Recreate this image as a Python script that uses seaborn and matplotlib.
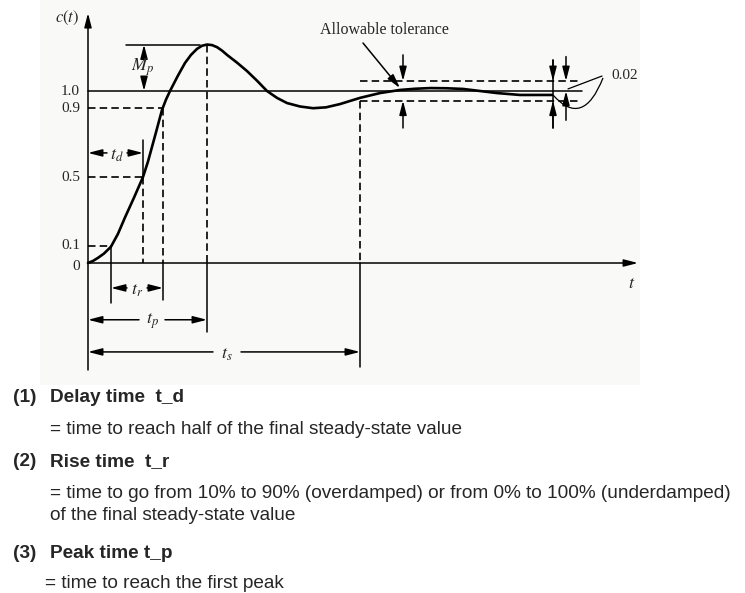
import matplotlib
matplotlib.use("Agg")
import matplotlib.pyplot as plt
import seaborn as sns
import pandas as pd
from matplotlib.patches import Rectangle, PathPatch
from matplotlib.path import Path

# -----------------------------
# Step response
# -----------------------------
t_vals = [0.00, 0.05, 0.10, 0.16, 0.23, 0.30, 0.37, 0.46, 0.55, 0.60, 0.68,
          0.74, 0.78, 0.82, 0.90, 0.97, 1.03, 1.09, 1.14, 1.19, 1.24, 1.29,
          1.34, 1.39, 1.49, 1.59, 1.69, 1.79, 1.89, 1.99, 2.12, 2.25, 2.38,
          2.52, 2.72, 2.92, 3.12, 3.27, 3.42, 3.58, 3.75, 3.92, 4.09, 4.32,
          4.64]
c_vals = [0.000, 0.012, 0.030, 0.055, 0.095, 0.170, 0.265, 0.380, 0.500, 0.590,
          0.760, 0.890, 0.950, 1.000, 1.090, 1.163, 1.210, 1.245, 1.263, 1.270,
          1.267, 1.255, 1.235, 1.210, 1.165, 1.116, 1.060, 1.000, 0.960, 0.930,
          0.910, 0.900, 0.905, 0.924, 0.960, 0.988, 1.006, 1.013, 1.017, 1.016,
          1.012, 1.000, 0.988, 0.977, 0.977]

tick_values = [1.0, 0.9, 0.5, 0.1, 0.0]
tick_labels = ["1.0", "0.9", "0.5", "0.1", "0"]

t_delay = 0.55
t_rise = [0.23, 0.75]
t_peak = 1.19
t_settle = 2.72
c_peak = 1.27
band = [1.058, 0.944]

descriptions = [
    ("(1)", "Delay time  t_d", True),
    ("", "= time to reach half of the final steady-state value", False),
    ("(2)", "Rise time  t_r", True),
    ("", "= time to go from 10% to 90% (overdamped) or from 0% to 100% (underdamped)", False),
    ("", "of the final steady-state value", False),
    ("(3)", "Peak time t_p", True),
    ("", " = time to reach the first peak", False),
]
line_y = [398, 430, 462, 494, 516, 553, 584]

# -----------------------------
# Figure setup
# -----------------------------
sns.set_theme(style="white")
plt.rcParams["mathtext.fontset"] = "stix"

W, H = 745, 593
fig = plt.figure(figsize=(W / 100, H / 100), dpi=100)
ax = fig.add_axes([0, 0, 1, 1])
ax.set_xlim(-0.88, 6.57)
ax.set_ylim(-330 / 172, 263 / 172)
ax.axis("off")

fig.add_artist(Rectangle((40 / W, 1 - 385 / H), 600 / W, 385 / H,
                         transform=fig.transFigure, facecolor="#f9f9f8",
                         edgecolor="none", zorder=0))

df = pd.DataFrame({"t": t_vals, "c": c_vals})
sns.lineplot(data=df, x="t", y="c", ax=ax, color="black", lw=1.9,
             estimator=None, sort=False, zorder=5)

serif = "Liberation Serif"
lw_ax = 1.1
dash = dict(color="black", lw=1.2, linestyle=(0, (4.5, 2.5)))
solid = dict(color="black", lw=lw_ax)
arrow = dict(arrowstyle="-|>,head_length=0.7,head_width=0.18", color="black",
             lw=lw_ax, shrinkA=0, shrinkB=0)

# axes with arrows
ax.annotate("", xy=(5.50, 0), xytext=(0, 0), arrowprops=arrow)
ax.annotate("", xy=(0, 1.453), xytext=(0, -0.622), arrowprops=arrow)
ax.text(5.44, -0.116, "$t$", fontsize=13, ha="center", va="center")
ax.text(-0.21, 1.424, "$c(t)$", fontsize=12, ha="center", va="center")

# y tick labels and reference lines
for v, lab in zip(tick_values, tick_labels):
    ax.text(-0.08, v - (0.02 if v == 0 else 0), lab, fontsize=11,
            family=serif, ha="right", va="center")

ax.plot([0, 4.94], [1.0, 1.0], **solid)
ax.plot([0, t_rise[1]], [0.9, 0.9], **dash)
ax.plot([0, t_delay], [0.5, 0.5], **dash)
ax.plot([0, t_rise[0]], [0.1, 0.1], **dash)

# vertical markers
ax.plot([t_delay, t_delay], [0.5, 0], **dash)
ax.plot([t_delay, t_delay], [0.715, 0.5], **solid)
ax.plot([t_rise[1], t_rise[1]], [0.9, 0], **dash)
ax.plot([t_rise[1], t_rise[1]], [0, -0.215], **solid)
ax.plot([t_rise[0], t_rise[0]], [0.1, -0.233], **solid)
ax.plot([t_peak, t_peak], [c_peak, 0], **dash)
ax.plot([t_peak, t_peak], [0, -0.40], **solid)
ax.plot([t_settle, t_settle], [band[1], 0], **dash)
ax.plot([t_settle, t_settle], [0, -0.605], **solid)

# tolerance band
ax.plot([t_settle, 4.92], [band[0], band[0]], **dash)
ax.plot([t_settle, 4.92], [band[1], band[1]], **dash)


def span_arrow(x0, x1, y, mid, gap, label, size=13):
    ax.annotate("", xy=(x0, y), xytext=(mid - gap, y), arrowprops=arrow)
    ax.annotate("", xy=(x1, y), xytext=(mid + gap, y), arrowprops=arrow)
    ax.text(mid, y - 0.01, label, fontsize=size, ha="center", va="center")


span_arrow(0, t_delay, 0.64, 0.29, 0.10, "$t_d$")
span_arrow(t_rise[0], t_rise[1], -0.145, 0.49, 0.10, "$t_r$")
span_arrow(0, t_peak, -0.33, 0.64, 0.13, "$t_p$")
span_arrow(0, t_settle, -0.517, 1.39, 0.14, "$t_s$")

# maximum overshoot
ax.plot([0.38, 1.12], [c_peak, c_peak], **solid)
ax.annotate("", xy=(0.56, c_peak), xytext=(0.56, 1.21), arrowprops=arrow)
ax.annotate("", xy=(0.56, 1.0), xytext=(0.56, 1.07), arrowprops=arrow)
ax.text(0.55, 1.14, "$M_p$", fontsize=13, ha="center", va="center")

# tolerance arrows
ax.annotate("", xy=(3.15, band[0]), xytext=(3.15, 1.21), arrowprops=arrow)
ax.annotate("", xy=(3.15, band[1]), xytext=(3.15, 0.785), arrowprops=arrow)
ax.plot([4.65, 4.65], [1.18, 0.785], **solid)
ax.annotate("", xy=(4.65, band[0]), xytext=(4.65, 1.18), arrowprops=arrow)
ax.annotate("", xy=(4.65, band[1]), xytext=(4.65, 0.785), arrowprops=arrow)
ax.annotate("", xy=(4.78, band[0]), xytext=(4.78, 1.20), arrowprops=arrow)
ax.annotate("", xy=(4.78, 1.0), xytext=(4.78, 0.83), arrowprops=arrow)

ax.text(2.96, 1.355, "Allowable tolerance", fontsize=11.5, family=serif,
        ha="center", va="center")
ax.annotate("", xy=(3.12, 1.017), xytext=(2.75, 1.279), arrowprops=arrow)

ax.text(5.23, 1.093, "0.02", fontsize=11, family=serif, ha="left", va="center")
ax.plot([4.80, 5.14], [1.012, 1.087], color="black", lw=0.9)
hook = Path([(5.15, 1.076), (4.95, 0.78), (4.65, 0.977)],
            [Path.MOVETO, Path.CURVE3, Path.CURVE3])
ax.add_patch(PathPatch(hook, facecolor="none", edgecolor="black", lw=0.9))

# -----------------------------
# Description text below the diagram
# -----------------------------
sans = "Liberation Sans"
for (num, body, bold), y in zip(descriptions, line_y):
    fy = 1 - y / H
    weight = "bold" if bold else "normal"
    if num:
        fig.text(13 / W, fy, num, fontsize=13.7, family=sans, weight=weight,
                 va="center", ha="left")
    fig.text(50 / W if body[0] != " " else 45 / W, fy, body.strip(),
             fontsize=13.7, family=sans, weight=weight, va="center", ha="left")

fig.savefig("out.png", dpi=100)
